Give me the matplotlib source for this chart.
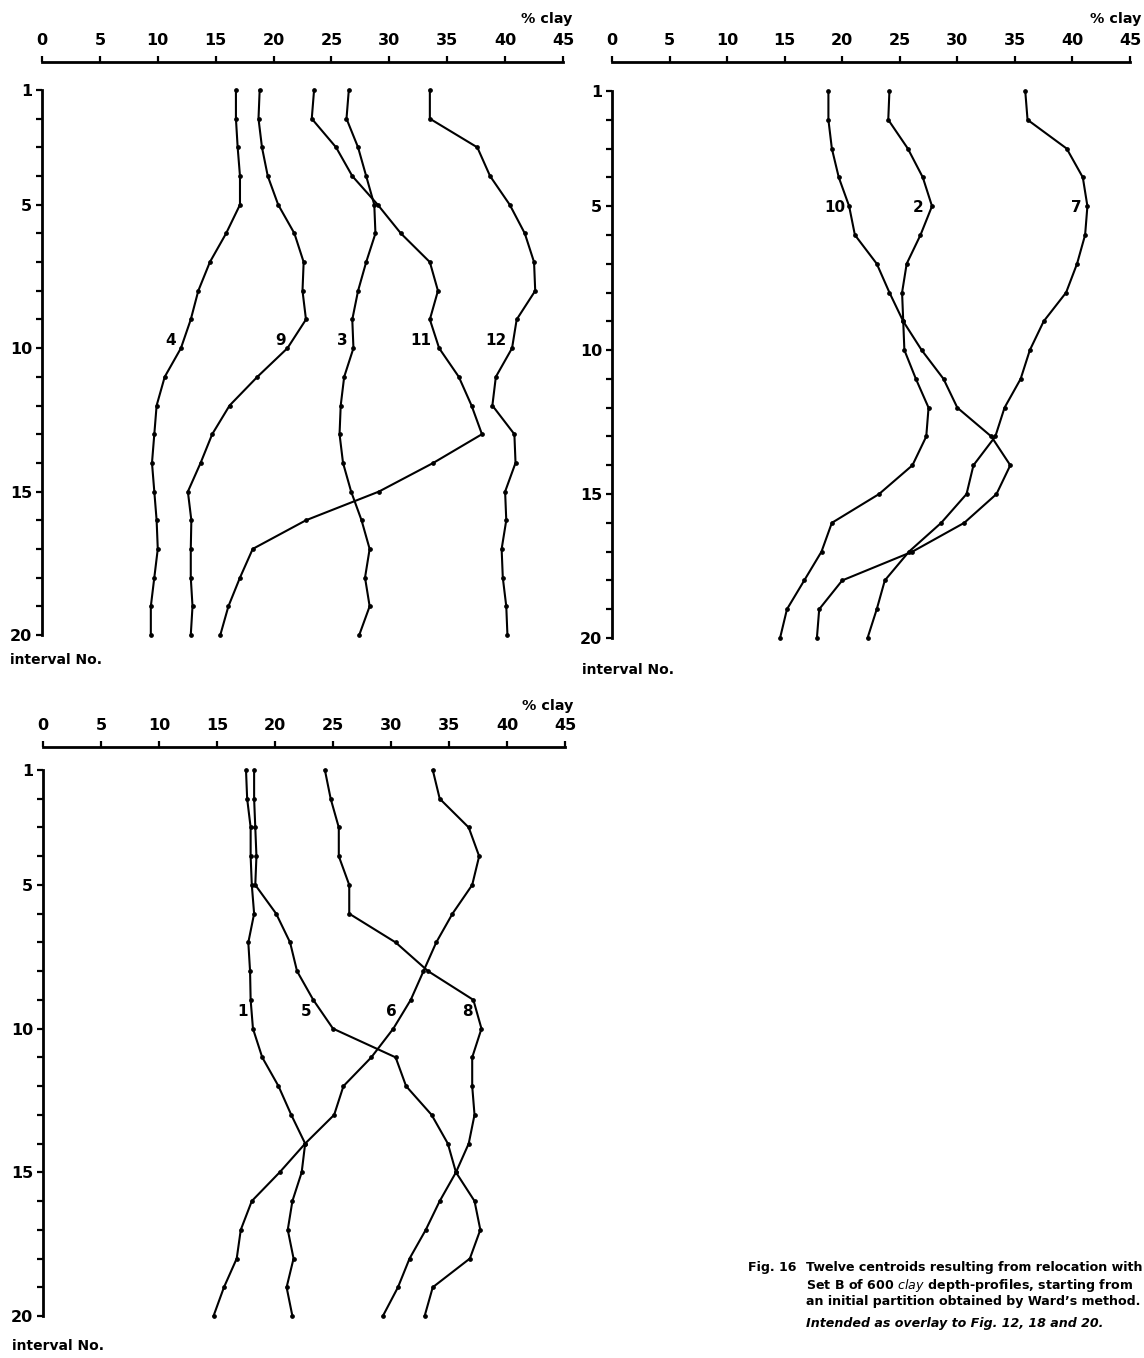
import matplotlib
matplotlib.use("Agg")

import matplotlib.pyplot as plt

W, H = 1144, 1358

intervals = list(range(1, 21))
x_ticks = list(range(0, 46, 5))
y_tick_labels = [1, 5, 10, 15, 20]

# top-left panel
clay_4 = [16.75, 16.75, 16.9, 17.1, 17.1, 15.9, 14.5, 13.5, 12.85, 12.0,
          10.6, 9.9, 9.7, 9.5, 9.7, 9.9, 10.0, 9.7, 9.4, 9.4]
clay_9 = [18.8, 18.7, 19.0, 19.5, 20.4, 21.8, 22.6, 22.5, 22.8, 21.2,
          18.6, 16.2, 14.7, 13.7, 12.6, 12.9, 12.85, 12.85, 13.0, 12.85]
clay_3 = [26.5, 26.3, 27.3, 28.0, 28.7, 28.8, 28.0, 27.3, 26.8, 26.9,
          26.1, 25.8, 25.7, 26.0, 26.7, 27.6, 28.3, 27.9, 28.3, 27.4]
clay_11 = [23.5, 23.3, 25.4, 26.8, 29.0, 31.0, 33.5, 34.2, 33.5, 34.3,
           36.0, 37.1, 38.0, 33.8, 29.1, 22.8, 18.2, 17.1, 16.1, 15.4]
clay_12 = [33.5, 33.5, 37.6, 38.7, 40.4, 41.7, 42.5, 42.6, 41.0, 40.6,
           39.2, 38.9, 40.8, 40.9, 40.0, 40.1, 39.7, 39.8, 40.1, 40.2]

# top-right panel
clay_10 = [18.8, 18.8, 19.1, 19.7, 20.6, 21.1, 23.0, 24.1, 25.3, 26.9,
           28.8, 30.0, 32.95, 34.6, 33.4, 30.6, 26.1, 20.0, 18.0, 17.8]
clay_2 = [24.1, 24.0, 25.7, 27.0, 27.8, 26.8, 25.6, 25.2, 25.3, 25.4,
          26.4, 27.5, 27.3, 26.1, 23.2, 19.1, 18.2, 16.7, 15.2, 14.6]
clay_7 = [35.9, 36.1, 39.5, 40.9, 41.3, 41.1, 40.4, 39.45, 37.5, 36.3,
          35.5, 34.1, 33.3, 31.4, 30.8, 28.6, 25.8, 23.7, 23.0, 22.2]

# bottom-left panel
clay_1 = [17.5, 17.6, 17.9, 17.9, 18.0, 18.2, 17.7, 17.85, 17.9, 18.1,
          18.9, 20.3, 21.4, 22.6, 22.3, 21.5, 21.1, 21.6, 21.0, 21.5]
clay_5 = [18.2, 18.2, 18.3, 18.4, 18.3, 20.1, 21.3, 21.9, 23.3, 25.0,
          30.4, 31.3, 33.5, 34.9, 35.6, 37.2, 37.7, 36.8, 33.6, 32.9]
clay_6 = [33.6, 34.2, 36.7, 37.6, 37.0, 35.3, 33.9, 32.8, 31.7, 30.2,
          28.3, 25.9, 25.1, 22.6, 20.4, 18.0, 17.05, 16.7, 15.6, 14.7]
clay_8 = [24.3, 24.8, 25.5, 25.5, 26.4, 26.4, 30.4, 33.2, 37.1, 37.8,
          37.0, 37.0, 37.2, 36.7, 35.6, 34.2, 33.0, 31.6, 30.6, 29.3]

# curve labels: (text, % clay, interval)
labels_a = [("4", 11.1, 9.75), ("9", 20.6, 9.75), ("3", 25.9, 9.75),
            ("11", 32.7, 9.75), ("12", 39.2, 9.75)]
labels_b = [("10", 19.4, 5.05), ("2", 26.6, 5.05), ("7", 40.3, 5.05)]
labels_c = [("1", 17.2, 9.4), ("5", 22.7, 9.4), ("6", 30.0, 9.4), ("8", 36.6, 9.4)]

FONT = "DejaVu Sans"


def px(x, y):
    return x / W, 1 - y / H


def add_panel(fig, left, right, top, row1, row20, curves, labels):
    per = (row20 - row1) / 19
    ax = fig.add_axes([left / W, 1 - row20 / H, (right - left) / W, (row20 - top) / H])
    ax.set_xlim(0, 45)
    ax.set_ylim(20, 1 - (row1 - top) / per)

    for vals in curves:
        ax.plot(vals, intervals, color="black", linewidth=1.5, marker="o",
                markersize=2.4, clip_on=False, solid_joinstyle="miter")
    for text, x, y in labels:
        ax.text(x, y, text, ha="center", va="center", fontsize=11,
                fontweight="bold", family=FONT)

    for side in ("right", "bottom"):
        ax.spines[side].set_visible(False)
    ax.spines["top"].set_linewidth(2.0)
    ax.spines["left"].set_linewidth(2.0)
    ax.spines["top"].set_bounds(0, 45)
    ax.spines["left"].set_bounds(1, 20)

    ax.xaxis.tick_top()
    ax.set_xticks(x_ticks)
    ax.set_xticklabels([str(t) for t in x_ticks], fontsize=11.5,
                       fontweight="bold", family=FONT)
    ax.tick_params(axis="x", direction="out", length=4, width=1.6, pad=6)

    ax.set_yticks(intervals, minor=True)
    ax.set_yticks(y_tick_labels)
    ax.set_yticklabels([str(t) for t in y_tick_labels], fontsize=11.5,
                       fontweight="bold", family=FONT)
    ax.tick_params(axis="y", which="both", direction="out", length=4, width=1.6, pad=3)
    ax.patch.set_visible(False)
    return ax


def main() -> None:
    fig = plt.figure(figsize=(W / 100, H / 100), dpi=100)

    add_panel(fig, 42, 563, 62, 90, 635,
              [clay_4, clay_9, clay_3, clay_11, clay_12], labels_a)
    add_panel(fig, 612, 1130, 62, 91, 638,
              [clay_10, clay_2, clay_7], labels_b)
    add_panel(fig, 43, 565, 747, 770, 1316,
              [clay_1, clay_5, clay_6, clay_8], labels_c)

    for x, y in [(572, 19), (1141, 19), (573, 706)]:
        fig.text(*px(x, y), "% clay", ha="right", va="center", fontsize=10.3,
                 fontweight="bold", family=FONT)
    for x, y in [(10, 660), (582, 670), (12, 1346)]:
        fig.text(*px(x, y), "interval No.", ha="left", va="center", fontsize=10,
                 fontweight="bold", family=FONT)

    cap = dict(fontsize=9.1, fontweight="bold", family=FONT, ha="left", va="center")
    fig.text(*px(748, 1268), "Fig. 16", **cap)
    fig.text(*px(806, 1268), "Twelve centroids resulting from relocation with", **cap)
    fig.text(*px(806, 1285), "Set B of 600 $\\it{clay}$ depth-profiles, starting from", **cap)
    fig.text(*px(806, 1301), "an initial partition obtained by Ward\u2019s method.", **cap)
    fig.text(*px(806, 1323), "Intended as overlay to Fig. 12, 18 and 20.",
             style="italic", **cap)

    fig.savefig("out.png", dpi=100)


if __name__ == "__main__":
    main()
